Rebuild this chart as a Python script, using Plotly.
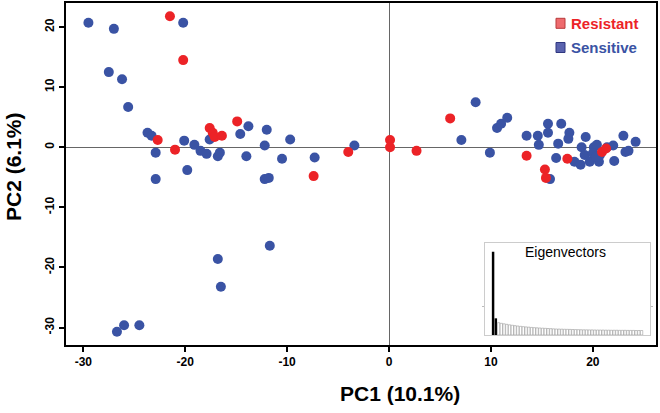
import plotly.graph_objects as go

# ---------------- data ----------------
sens_x = [-29.5, -27.0, -20.2, -27.5, -26.2, -25.6, -23.7, -23.3, -22.9, -22.9,
          -20.1, -19.1, -18.5, -17.9, -19.8, -17.6, -16.8, -16.6, -14.6, -13.8,
          -14.0, -12.2, -12.0, -12.2, -11.8, -10.5, -9.7, -7.3, -3.4,
          -11.7, -16.8, -16.5, -26.0, -24.5, -26.7,
          7.1, 8.5, 9.9, 10.6, 11.0, 11.6, 13.5, 14.6, 14.7, 15.6, 15.6, 16.9,
          17.7, 17.6, 16.6, 16.4, 15.8, 19.3, 18.9, 18.2, 18.8, 19.2, 19.7, 20.1,
          20.4, 20.0, 20.6, 20.7, 21.4, 22.0, 22.1, 23.0, 23.2, 23.5, 24.2, 20.3]
sens_y = [20.7, 19.7, 20.7, 12.5, 11.3, 6.7, 2.4, 1.9, -0.9, -5.3,
          1.1, 0.4, -0.6, -1.1, -3.8, 1.3, -1.5, -0.9, 2.2, 3.5,
          -1.5, 0.3, 2.9, -5.3, -5.1, -1.9, 1.3, -1.7, 0.3,
          -16.4, -18.6, -23.2, -29.6, -29.6, -30.7,
          1.2, 7.5, -0.9, 3.2, 3.9, 4.9, 1.9, 1.9, 0.4, 3.9, 2.4, 3.9,
          2.4, 1.4, 0.6, -1.8, -5.3, 1.7, 0.0, -2.4, -2.9, -1.3, -2.4, 0.0,
          0.4, -1.0, -2.4, -1.3, 0.0, 0.3, -2.3, 1.9, -0.8, -0.6, 0.9, -1.6]

res_x = [-21.5, -20.2, -22.7, -21.0, -17.6, -17.3, -17.1, -16.4, -14.9, -7.4,
         -4.0, 0.1, 0.1, 2.7, 6.0, 13.5, 17.5, 15.3, 15.4, 20.9, 21.3]
res_y = [21.8, 14.5, 1.2, -0.4, 3.2, 2.4, 1.7, 1.9, 4.3, -4.8,
         -0.8, 1.2, 0.0, -0.6, 4.8, -1.4, -1.9, -3.7, -5.1, -0.8, -0.2]

x_ticks = [-30, -20, -10, 0, 10, 20]
x_tick_text = ["-30", "-20", "-10", "0", "10", "20"]
y_ticks = [-30, -20, -10, 0, 10, 20]
y_tick_text = ["-30", "-20", "-10", "0", "10", "20"]

eig_top = [1.0, 0.2]
eig_rest = [0.148, 0.140, 0.134, 0.128, 0.122, 0.117, 0.112, 0.108, 0.104, 0.100,
            0.097, 0.094, 0.091, 0.088, 0.086, 0.084, 0.082, 0.080, 0.078, 0.076,
            0.074, 0.072, 0.071, 0.070, 0.069, 0.068, 0.067, 0.066, 0.065, 0.064,
            0.063, 0.062, 0.062, 0.061, 0.061, 0.060, 0.060, 0.059, 0.059, 0.058,
            0.058, 0.057, 0.057, 0.057, 0.056, 0.056, 0.056, 0.055, 0.055, 0.055,
            0.054, 0.054, 0.054]

BLUE = "#3a53a4"
RED = "#ec2327"
FONT = "Liberation Sans"

W, H = 660, 413
L, R, T, B = 66, 4, 3, 68
PW, PH = W - L - R, H - T - B


def px(x):
    return (x - L) / PW


def py(y):
    return (H - B - y) / PH


fig = go.Figure()
fig.add_trace(go.Scatter(x=sens_x, y=sens_y, mode="markers",
                         marker=dict(color=BLUE, size=10, line=dict(width=0)),
                         showlegend=False, xaxis="x", yaxis="y"))
fig.add_trace(go.Scatter(x=res_x, y=res_y, mode="markers",
                         marker=dict(color=RED, size=10, line=dict(width=0)),
                         showlegend=False, xaxis="x", yaxis="y"))

# inset eigenvalue bars
idx_top = list(range(len(eig_top)))
idx_rest = list(range(len(eig_top), len(eig_top) + len(eig_rest)))
fig.add_trace(go.Bar(x=idx_top, y=eig_top, marker=dict(color="black", line=dict(width=0)),
                     width=0.9, showlegend=False, xaxis="x2", yaxis="y2"))
fig.add_trace(go.Bar(x=idx_rest, y=eig_rest,
                     marker=dict(color="white", line=dict(color="#9a9a9a", width=0.6)),
                     width=0.85, showlegend=False, xaxis="x2", yaxis="y2"))

n_bars = len(eig_top) + len(eig_rest)

axis_common = dict(showline=True, mirror=True, linecolor="black", linewidth=2,
                   ticks="outside", ticklen=5, tickwidth=1.5, tickcolor="black",
                   showgrid=False, zeroline=True, zerolinecolor="#666666", zerolinewidth=1,
                   automargin=False, tickmode="array",
                   tickfont=dict(family=FONT, size=12, color="black", weight="bold"))

fig.update_layout(
    template="none",
    width=W, height=H,
    margin=dict(l=L, r=R, t=T, b=B, pad=0, autoexpand=False),
    paper_bgcolor="white", plot_bgcolor="white",
    font=dict(family=FONT, color="black"),
    bargap=0.1,
    xaxis=dict(range=[-31.7, 26.2], tickvals=x_ticks, ticktext=x_tick_text,
               domain=[0, 1], **axis_common),
    yaxis=dict(range=[-32.9, 24.0], tickvals=y_ticks, ticktext=y_tick_text,
               tickangle=-90, domain=[0, 1], **axis_common),
    xaxis2=dict(domain=[px(485), px(650)], anchor="y2", range=[-2.94, n_bars + 2.06],
                showline=True, mirror=True, linecolor="#cccccc", linewidth=1,
                showticklabels=False, ticks="", showgrid=False, zeroline=False,
                automargin=False),
    yaxis2=dict(domain=[py(335), py(243.3)], anchor="x2", range=[0, 1.1],
                showline=True, mirror="ticks", linecolor="#cccccc", linewidth=1,
                ticks="outside", tickvals=[0.34], ticklen=2, tickcolor="#bbbbbb",
                showticklabels=False, showgrid=False, zeroline=False,
                automargin=False),
    showlegend=False,
)

annotations = [
    dict(text="Eigenvectors", x=px(565), y=py(252), xref="paper", yref="paper",
         showarrow=False, font=dict(family=FONT, size=14, color="black"),
         xanchor="center", yanchor="middle"),
    dict(text="Resistant", x=px(569), y=py(23.3), xref="paper", yref="paper",
         showarrow=False, font=dict(family=FONT, size=15, color=RED, weight="bold"),
         xanchor="left", yanchor="middle"),
    dict(text="Sensitive", x=px(569), y=py(47.7), xref="paper", yref="paper",
         showarrow=False, font=dict(family=FONT, size=15, color=BLUE, weight="bold"),
         xanchor="left", yanchor="middle"),
    dict(text="PC1 (10.1%)", x=px(400), y=py(393), xref="paper", yref="paper",
         showarrow=False, font=dict(family=FONT, size=21, color="black", weight="bold"),
         xanchor="center", yanchor="middle"),
    dict(text="PC2 (6.1%)", x=px(13), y=py(167), xref="paper", yref="paper",
         showarrow=False, textangle=-90,
         font=dict(family=FONT, size=21, color="black", weight="bold"),
         xanchor="center", yanchor="middle"),
]
fig.update_layout(annotations=annotations)

shapes = [
    dict(type="rect", xref="paper", yref="paper",
         x0=px(556), x1=px(565), y0=py(28.3), y1=py(18.3),
         fillcolor="#ee6b6e", line=dict(color="#b83a3a", width=1)),
    dict(type="rect", xref="paper", yref="paper",
         x0=px(556), x1=px(565), y0=py(52.5), y1=py(42.5),
         fillcolor="#5a63ae", line=dict(color="#2f3780", width=1)),
]
fig.update_layout(shapes=shapes)

fig.write_html("out.html",
               config={"displayModeBar": False},
               post_script="document.body.style.margin='0';document.body.style.overflow='hidden';")
